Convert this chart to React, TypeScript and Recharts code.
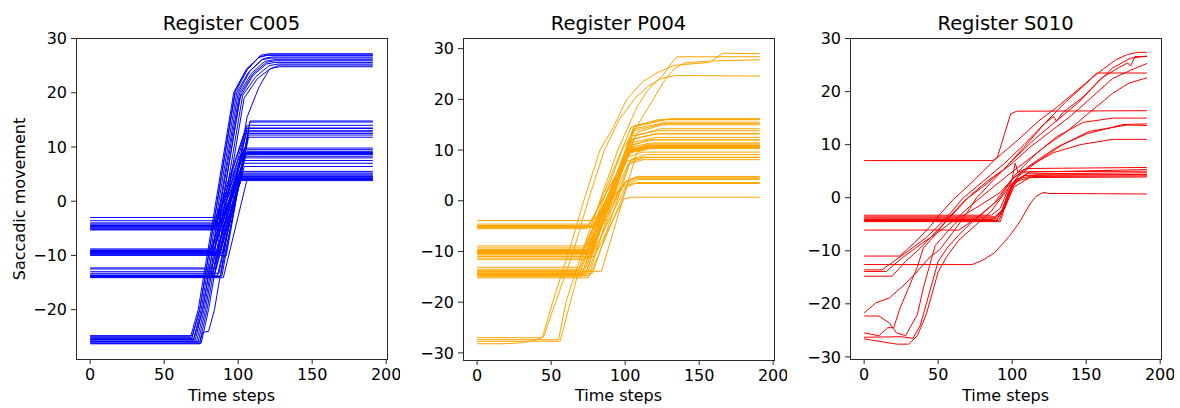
import { Line, LineChart, XAxis, YAxis } from 'recharts';

const LAST_STEP = 191;
const timeTicks = [0, 50, 100, 150, 200];
const c005Ticks = [-20, -10, 0, 10, 20, 30];
const fullTicks = [-30, -20, -10, 0, 10, 20, 30];

// C005: [start level, rise starts, rise ends, end level]
const c005Ramps = [
  [-3.0, 85, 104, 12.5], [-3.6, 86, 100, 4.8], [-4.0, 84, 101, 8.3], [-4.2, 87, 102, 4.2],
  [-4.4, 85, 105, 13.4], [-4.5, 88, 101, 5.0], [-4.7, 84, 103, 9.0], [-4.8, 86, 100, 3.8],
  [-5.0, 87, 106, 14.0], [-5.2, 83, 102, 7.5], [-5.3, 89, 103, 4.6], [-4.6, 86, 104, 8.8],
  [-8.8, 84, 104, 9.5], [-9.0, 82, 101, 4.4], [-9.2, 86, 106, 13.0], [-9.3, 88, 103, 5.2],
  [-9.4, 83, 105, 8.6], [-9.5, 90, 107, 12.2], [-9.6, 85, 102, 4.0], [-9.8, 87, 106, 9.2],
  [-10.0, 92, 108, 14.6], [-9.1, 81, 103, 7.0], [-9.7, 89, 104, 6.4],
  [-12.3, 82, 104, 8.0], [-12.5, 85, 106, 13.5], [-13.0, 83, 102, 4.5], [-13.3, 87, 107, 12.8],
  [-13.6, 84, 103, 5.5], [-13.8, 89, 108, 14.8], [-14.0, 82, 104, 9.8], [-14.1, 90, 106, 4.0],
  [-13.7, 86, 105, 8.9], [-13.9, 88, 107, 11.8],
];

// C005 large saccades, knots as t, v, t, v, ...
const c005Sweeps = [
  [0, -24.9, 68, -24.9, 73, -20, 97, 20, 105, 24, 114, 26.6, 120, 26.9, 191, 26.9],
  [0, -25.1, 69, -25.1, 74, -20, 98, 20, 106, 24.2, 115, 26.9, 121, 27.2, 191, 27.2],
  [0, -25.3, 70, -25.3, 75, -20, 99, 20, 107, 23.8, 116, 26.1, 122, 26.4, 191, 26.4],
  [0, -25.5, 70, -25.5, 76, -20, 100, 20, 108, 24, 117, 26.3, 123, 26.6, 191, 26.6],
  [0, -25.6, 71, -25.6, 76, -20, 101, 20, 109, 23.6, 118, 25.8, 124, 26.1, 191, 26.1],
  [0, -25.8, 72, -25.8, 77, -20, 102, 20, 110, 23.5, 119, 25.6, 125, 25.9, 191, 25.9],
  [0, -25.9, 73, -25.9, 78, -20, 101, 19, 110, 23.2, 119, 25.3, 125, 25.6, 191, 25.6],
  [0, -26.0, 74, -26.0, 79, -20, 103, 19.5, 112, 23, 121, 25, 127, 25.3, 191, 25.3],
  [0, -26.2, 75, -26.2, 80, -20, 104, 19, 113, 22.6, 122, 24.5, 128, 24.8, 191, 24.8],
  [0, -26.3, 74, -26.3, 76, -24.2, 80, -24, 84, -20, 106, 15.5, 114, 21, 121, 24.3, 128, 25.1, 191, 25.1],
  [0, -24.8, 69, -24.8, 74, -20, 98, 20.5, 106, 24.5, 114, 26.5, 120, 27, 191, 27],
];

// P004: [start, rise starts, knee t, knee v, settles t, end level]
const p004Ramps = [
  [-3.9, 78, 104, 14.5, 122, 16.0], [-4.6, 76, 100, 3.6, 108, 4.5], [-4.9, 79, 106, 11.0, 116, 12.0],
  [-5.0, 75, 102, 9.5, 113, 10.6], [-5.2, 80, 108, 13.5, 125, 15.0], [-5.3, 77, 101, 7.8, 112, 8.6],
  [-5.5, 74, 103, 9.8, 115, 10.8], [-5.1, 78, 98, 2.8, 106, 3.4],
  [-8.9, 74, 104, 12.0, 120, 13.2], [-9.3, 72, 102, 9.6, 114, 10.5], [-9.6, 76, 106, 14.8, 130, 16.2],
  [-9.8, 73, 100, 3.8, 108, 4.8], [-10.0, 75, 103, 9.9, 116, 10.9], [-10.1, 71, 101, 8.6, 112, 9.6],
  [-10.2, 77, 107, 12.8, 124, 14.2], [-10.4, 74, 104, 10.2, 117, 11.2], [-10.5, 78, 101, 3.2, 109, 4.2],
  [-10.7, 72, 102, 9.3, 114, 10.3], [-11.0, 79, 99, 0.3, 104, 0.7], [-11.3, 76, 105, 11.5, 121, 12.5],
  [-11.6, 73, 102, 7.2, 112, 8.1], [-9.9, 75, 106, 14.2, 128, 15.5], [-10.3, 77, 103, 9.6, 115, 10.6],
  [-13.1, 70, 104, 12.8, 122, 13.8], [-13.5, 72, 102, 9.7, 116, 10.7], [-13.8, 68, 100, 3.5, 108, 4.5],
  [-14.0, 74, 106, 14.6, 128, 16.0], [-14.2, 71, 103, 10.0, 116, 11.0], [-14.3, 78, 104, 8.2, 114, 9.1],
  [-14.5, 69, 102, 10.4, 117, 11.4], [-14.6, 73, 105, 12.2, 122, 13.2], [-14.8, 76, 101, 2.7, 108, 3.6],
  [-15.0, 70, 103, 9.5, 115, 10.4], [-15.2, 75, 106, 13.8, 126, 15.2], [-14.4, 72, 104, 11.0, 118, 12.0],
  [-13.9, 84, 108, 9.6, 120, 10.6], [-14.7, 74, 103, 7.6, 113, 8.5],
];

const p004Sweeps = [
  [0, -27.0, 44, -27.0, 51, -20, 62, -10, 72, 0, 83, 10, 92, 14.5, 101, 20, 112, 23.5, 122, 25.3, 133, 26.7, 157, 27.3, 166, 29.1, 191, 29.0],
  [0, -28.2, 18, -28.2, 30, -28, 38, -27.6, 45, -26.8, 53, -20, 65, -10, 75, 0, 86, 10, 96, 16, 106, 20, 115, 22.5, 125, 24.2, 135, 24.7, 191, 24.6],
  [0, -27.4, 55, -27.4, 60, -20, 71, -10, 83, 0, 95, 10, 108, 18.5, 115, 21.7, 126, 25, 131, 27, 135, 28.4, 191, 28.4],
  [0, -27.7, 56, -27.7, 63, -20, 72, -10, 85, 0, 98, 10, 119, 20, 126, 23.5, 133, 26, 140, 27.2, 160, 27.6, 191, 27.8],
];

// S010, knots as t, v, t, v, ...
const s010Paths = [
  [0, 7.0, 87, 7.0, 90, 7.6, 99, 15.8, 103, 16.3, 191, 16.4],
  [0, -12.6, 73, -12.6, 80, -11.8, 88, -10.4, 98, -7.3, 105, -4.6, 112, -1.2, 116, 0.2, 121, 1.0, 125, 0.8, 191, 0.7],
  [0, -11.0, 24, -11.0, 34, -8.5, 44, -5.6, 52, -2.9, 60, -0.4, 71, 2.4, 88, 7.1, 104, 10.9, 118, 14.5, 130, 17.0, 145, 20.5, 158, 23.5, 170, 26.0, 178, 27.0, 185, 27.4, 191, 27.4],
  [0, -21.7, 8, -19.8, 17, -18.9, 26, -16.7, 35, -14.2, 44, -11.3, 51, -9.8, 60, -6.5, 68, -3.5, 76, 0, 88, 3.5, 100, 7.0, 115, 11.0, 130, 14.5, 145, 18.0, 157, 21.5, 168, 24.5, 180, 26.3, 191, 26.7],
  [0, -13.6, 12, -13.6, 20, -12.0, 30, -10.0, 42, -7.5, 55, -4.0, 67, 0, 80, 3.0, 95, 6.5, 108, 10.0, 122, 14.0, 136, 18.0, 150, 21.5, 157, 23.5, 191, 23.5],
  [0, -14.8, 19, -14.8, 28, -12.0, 38, -9.5, 50, -6.0, 62, -2.5, 72, 0.5, 85, 3.5, 98, 6.0, 112, 9.5, 126, 12.5, 140, 15.5, 156, 19.5, 168, 22.5, 180, 24.0, 191, 25.3],
  [0, -13.9, 15, -13.9, 25, -11.5, 37, -9.0, 50, -6.5, 62, -4.0, 72, -1.5, 85, 1.5, 96, 4.0, 110, 7.0, 124, 10.0, 137, 12.5, 152, 16.0, 168, 19.7, 179, 21.6, 191, 22.6],
  [0, -25.5, 10, -26.0, 16, -24.5, 20, -24.5, 24, -21.0, 30, -17.0, 36, -13.0, 40, -9.5, 48, -7.0, 58, -3.5, 68, -0.5, 80, 2.0, 95, 5.5, 108, 9.5, 122, 14.0, 128, 15.3, 130, 14.4, 134, 16.0, 148, 19.0, 160, 22.5, 172, 24.5, 178, 25.4, 180, 24.8, 183, 26.6, 191, 26.6],
  [0, -26.3, 25, -26.2, 33, -26.5, 38, -24.0, 42, -20.0, 46, -16.0, 50, -12.0, 56, -9.5, 64, -7.0, 75, -4.0, 88, -1.0, 96, 2.0, 102, 4.3, 115, 8.0, 130, 11.5, 148, 14.2, 168, 15.0, 191, 15.0],
  [0, -22.3, 10, -22.3, 17, -23.6, 22, -25.5, 28, -26.0, 32, -24.0, 36, -22.0, 40, -17.0, 44, -13.0, 48, -9.0, 56, -6.5, 66, -3.5, 78, -1.5, 92, 1.0, 100, 3.5, 114, 6.5, 130, 9.5, 150, 12.0, 175, 13.8, 191, 13.9],
  [0, -26.6, 22, -27.6, 30, -27.6, 36, -26.0, 42, -22.0, 46, -18.0, 50, -14.0, 56, -11.0, 64, -8.0, 74, -5.5, 86, -2.5, 98, 2.0, 104, 4.0, 118, 7.0, 134, 10.0, 152, 12.5, 178, 13.7, 191, 13.6],
  [0, -6.1, 64, -6.1, 80, -3.0, 92, 0, 100, 3.5, 112, 6.0, 128, 8.5, 146, 10.0, 168, 11.0, 191, 11.0],
  [0, -3.3, 86, -3.3, 92, -2.0, 100, 3.5, 102, 6.5, 104, 4.8, 110, 5.5, 191, 5.7],
  [0, -3.6, 88, -3.6, 93, -2.5, 99, 2.0, 106, 4.8, 191, 5.3],
  [0, -3.8, 89, -3.8, 94, -2.0, 101, 3.0, 112, 4.9, 191, 5.0],
  [0, -4.0, 90, -4.0, 95, -1.5, 100, 2.5, 110, 4.5, 191, 4.7],
  [0, -4.1, 87, -4.1, 93, -2.5, 98, 1.5, 108, 4.2, 191, 4.4],
  [0, -4.3, 91, -4.3, 96, -1.0, 102, 3.0, 114, 4.0, 191, 4.1],
  [0, -4.4, 89, -4.4, 95, -2.0, 101, 2.0, 112, 3.8, 191, 3.9],
  [0, -4.5, 92, -4.5, 97, 0, 103, 3.5, 116, 4.3, 191, 4.3],
];

type Pt = { t: number; v: number };

const fromKnots = (k: number[]): Pt[] => {
  const pts: Pt[] = [];
  for (let i = 0; i < k.length; i += 2) pts.push({ t: k[i], v: k[i + 1] });
  return pts;
};

const fromRamp = ([s, t0, t1, e]: number[]): Pt[] => [
  { t: 0, v: s },
  { t: t0, v: s },
  { t: t1, v: e },
  { t: LAST_STEP, v: e },
];

const fromKnee = ([s, t0, t1, v1, t2, e]: number[]): Pt[] => [
  { t: 0, v: s },
  { t: t0, v: s },
  { t: t1, v: v1 },
  { t: t2, v: e },
  { t: LAST_STEP, v: e },
];

const FONT = '"DejaVu Sans", sans-serif';
const INK = '#262626';
const minus = (v: number) => (v < 0 ? `\u2212${-v}` : `${v}`);

interface Box {
  x: number;
  y: number;
  w: number;
  h: number;
}

interface PanelProps {
  title: string;
  color: string;
  lines: Pt[][];
  yDomain: [number, number];
  yTicks: number[];
  plot: Box;
}

const tickStyle = { fill: '#000', fontSize: 16, fontFamily: FONT };

function Panel({ color, lines, yDomain, yTicks, plot }: PanelProps) {
  const axisW = 60;
  const axisH = 30;
  const left = plot.x - 16 - axisW;
  const width = 16 + axisW + plot.w + 13;
  return (
    <div style={{ position: 'absolute', left, top: 0 }}>
      <LineChart
        width={width}
        height={408}
        margin={{ top: plot.y, right: 13, left: 16, bottom: 408 - plot.y - plot.h - axisH }}
      >
        <XAxis
          type="number"
          dataKey="t"
          domain={[-9.55, 200.55]}
          ticks={timeTicks}
          allowDataOverflow
          height={axisH}
          axisLine={false}
          tickSize={5}
          tickMargin={5}
          tickLine={{ stroke: INK }}
          tick={tickStyle}
        />
        <YAxis
          type="number"
          dataKey="v"
          domain={yDomain}
          ticks={yTicks}
          allowDataOverflow
          width={axisW}
          axisLine={false}
          tickSize={5}
          tickMargin={4}
          tickLine={{ stroke: INK }}
          tick={tickStyle}
          tickFormatter={minus}
        />
        {lines.map((pts, i) => (
          <Line
            key={i}
            data={pts}
            dataKey="v"
            type="linear"
            stroke={color}
            strokeWidth={1}
            dot={false}
            activeDot={false}
            isAnimationActive={false}
          />
        ))}
      </LineChart>
      <div
        style={{
          position: 'absolute',
          left: plot.x - left,
          top: plot.y,
          width: plot.w + 1,
          height: plot.h + 1,
          border: `1px solid ${INK}`,
          boxSizing: 'border-box',
          pointerEvents: 'none',
        }}
      />
    </div>
  );
}

const panels: PanelProps[] = [
  {
    title: 'Register C005',
    color: '#0000ff',
    lines: [...c005Ramps.map(fromRamp), ...c005Sweeps.map(fromKnots)],
    yDomain: [-29.1, 30.1],
    yTicks: c005Ticks,
    plot: { x: 76, y: 38, w: 311, h: 321 },
  },
  {
    title: 'Register P004',
    color: '#ffa500',
    lines: [...p004Ramps.map(fromKnee), ...p004Sweeps.map(fromKnots)],
    yDomain: [-31.4, 32.1],
    yTicks: fullTicks,
    plot: { x: 463, y: 38, w: 311, h: 322 },
  },
  {
    title: 'Register S010',
    color: '#ff0000',
    lines: s010Paths.map(fromKnots),
    yDomain: [-30.4, 30.1],
    yTicks: fullTicks,
    plot: { x: 850, y: 38, w: 311, h: 321 },
  },
];

export default function App() {
  return (
    <div style={{ position: 'absolute', left: 0, top: 0, width: 1180, height: 408, background: '#fff' }}>
      {panels.map((p) => (
        <Panel key={p.title} {...p} />
      ))}
      <svg
        width={1180}
        height={408}
        style={{ position: 'absolute', left: 0, top: 0, pointerEvents: 'none' }}
        fontFamily={FONT}
      >
        {panels.map((p) => (
          <g key={p.title}>
            <text x={p.plot.x + p.plot.w / 2} y={30} textAnchor="middle" fontSize={19.5} fill="#000">
              {p.title}
            </text>
            <text x={p.plot.x + p.plot.w / 2} y={401} textAnchor="middle" fontSize={16} fill="#000">
              Time steps
            </text>
          </g>
        ))}
        <text
          x={25}
          y={199}
          textAnchor="middle"
          fontSize={16}
          fill="#000"
          transform="rotate(-90 25 199)"
        >
          Saccadic movement
        </text>
      </svg>
    </div>
  );
}
